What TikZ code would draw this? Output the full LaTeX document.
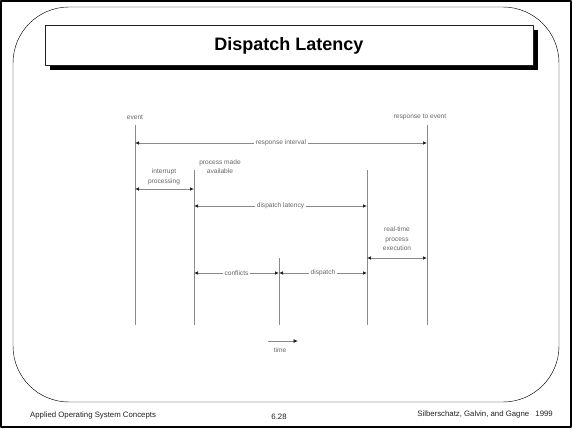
\documentclass[tikz,border=0pt]{standalone}
\usepackage{fontspec}
\setmainfont{Liberation Sans}
\usetikzlibrary{arrows.meta,calc}
\definecolor{slideln}{HTML}{202020}
\definecolor{figln}{HTML}{8A8A8A}
\definecolor{figtx}{HTML}{666666}

\tikzset{
  timeline/.style={draw=figln, line width=0.8pt},
  span/.style={draw=figln, line width=0.7pt, {Latex[length=4pt,width=3.5pt,slideln]}-{Latex[length=4pt,width=3.5pt,slideln]}},
  figlabel/.style={font=\fontsize{6.6}{9.5}\selectfont, text=figtx, fill=white, inner sep=1.5pt, align=center},
  footer/.style={font=\fontsize{7.8}{9}\selectfont, text=slideln, inner sep=0pt}
}

\begin{document}
\begin{tikzpicture}[x=1pt, y=-1pt, line join=round]
  \useasboundingbox (0,0) rectangle (572,428);
  % slide frame
  \fill[white] (0,0) rectangle (572,428);
  \draw[black, line width=2.4pt] (1.2,1.2) rectangle (570.8,426.8);
  \draw[black, line width=0.45pt, rounded corners=56pt] (13,7) rectangle (559,402);

  % title box with shadow
  \fill[black] (50,30) rectangle (538,70);
  \draw[slideln, line width=0.5pt, fill=white] (45,25) rectangle (533,65);
  \node[font=\bfseries\fontsize{18}{21}\selectfont] (title) at (289,45.5) {Dispatch Latency};

  % time lines
  \coordinate (ev-t) at (135,125);   \coordinate (ev-b) at (135,325);
  \coordinate (pa-t) at (194,170);   \coordinate (pa-b) at (194,325);
  \coordinate (md-t) at (279,258);   \coordinate (md-b) at (279,325);
  \coordinate (rt-t) at (367,170);   \coordinate (rt-b) at (367,325);
  \coordinate (re-t) at (427,125);   \coordinate (re-b) at (427,325);
  \foreach \l in {ev,pa,md,rt,re}
    \draw[timeline] (\l-t) -- (\l-b);

  \node[figlabel, fill=none] (event) at (135,117) {event};
  \node[figlabel, fill=none] (response) at (420,117) {response to event};

  % response interval
  \coordinate (ri-l) at (135,143);  \coordinate (ri-r) at (427,143);
  \draw[span] (ri-l) -- (ri-r);
  \node[figlabel] (ri) at ($(ri-l)!0.5!(ri-r)$) {response interval};

  % interrupt processing
  \coordinate (ip-l) at (135,189);  \coordinate (ip-r) at (194,189);
  \draw[span] (ip-l) -- (ip-r);
  \node[figlabel, fill=none] (ip) at (164,177) {interrupt\\processing};
  \node[figlabel, fill=none] (pma) at (220,166.5) {process made\\available};

  % dispatch latency
  \coordinate (dl-l) at (194,206);  \coordinate (dl-r) at (367,206);
  \draw[span] (dl-l) -- (dl-r);
  \node[figlabel] (dl) at ($(dl-l)!0.5!(dl-r)$) {dispatch latency};

  % real-time process execution
  \coordinate (rx-l) at (367,258);  \coordinate (rx-r) at (427,258);
  \draw[span] (rx-l) -- (rx-r);
  \node[figlabel, fill=none] (rx) at (397,239) {real-time\\process\\execution};

  % conflicts and dispatch
  \coordinate (cf-l) at (194,273);  \coordinate (cf-r) at (279,273);
  \coordinate (dp-r) at (367,273);
  \draw[span] (cf-l) -- (cf-r);
  \draw[span] (cf-r) -- (dp-r);
  \node[figlabel] (cf) at ($(cf-l)!0.5!(cf-r)$) {conflicts};
  \node[figlabel] (dp) at ($(cf-r)!0.5!(dp-r)$) {dispatch};

  % time arrow
  \coordinate (tm-l) at (268,341);  \coordinate (tm-r) at (298,341);
  \draw[draw=figln, line width=0.8pt, -{Latex[length=4.5pt,width=4pt,slideln]}] (tm-l) -- (tm-r);
  \node[figlabel, fill=none] (time) at (280,350) {time};

  % footer
  \node[footer, anchor=west] (course) at (30,415) {Applied Operating System Concepts};
  \node[footer] (page) at (279,416.5) {6.28};
  \node[footer, anchor=east] (authors) at (553,414) {Silberschatz, Galvin, and Gagne\hspace{0.8em}1999};
\end{tikzpicture}
\end{document}
